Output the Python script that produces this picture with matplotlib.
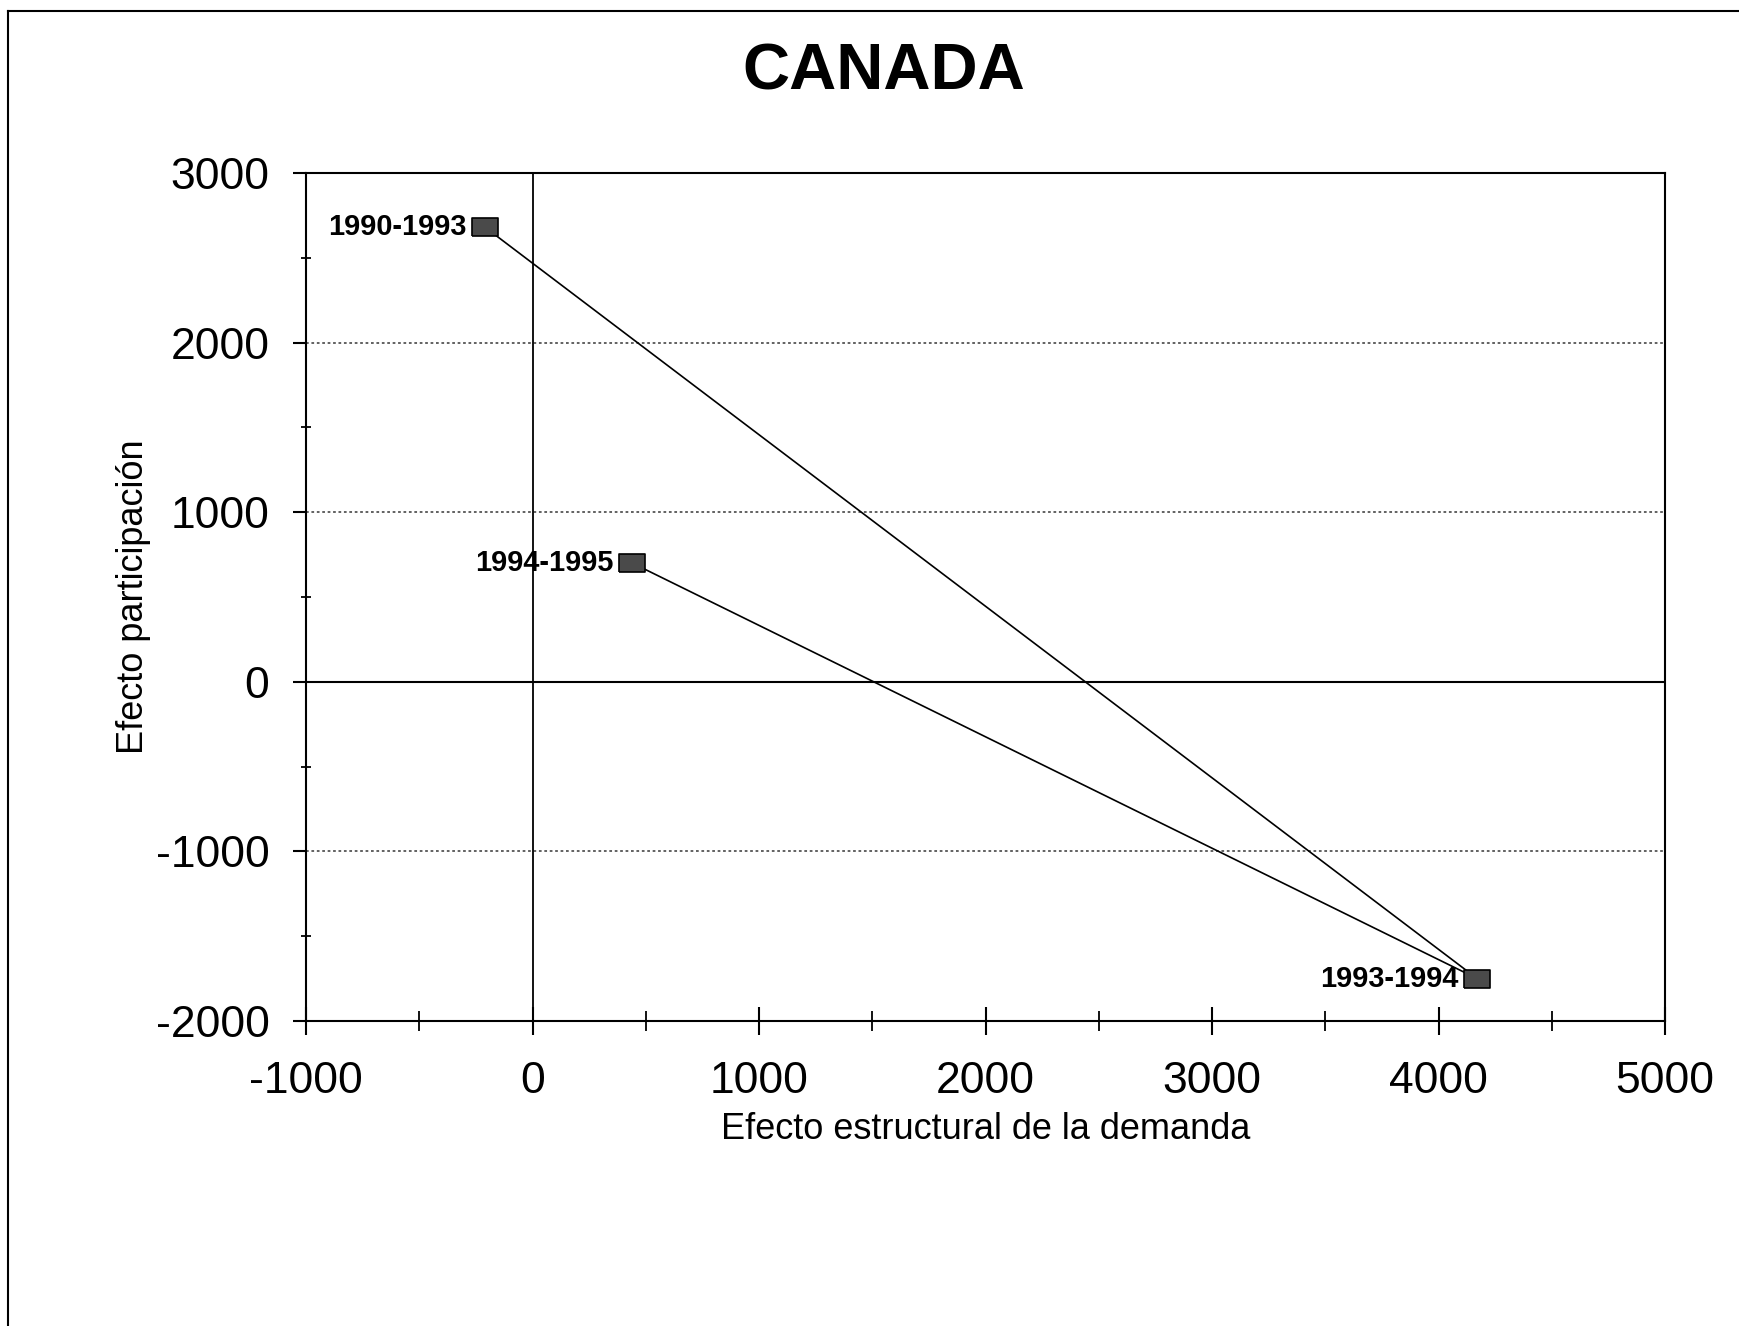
import numpy as np
import matplotlib.pyplot as plt
from matplotlib.lines import Line2D
from matplotlib.ticker import MultipleLocator

plt.rcParams['font.family'] = ['Liberation Sans', 'DejaVu Sans']
plt.rcParams['axes.unicode_minus'] = False

# Puntos por periodo (efecto estructural, efecto participación)
periodos = ["1990-1993", "1993-1994", "1994-1995"]
efecto_estructural = [-210, 4170, 440]
efecto_participacion = [2680, -1750, 700]

fig = plt.figure(figsize=(17.4, 13.26), dpi=100)
ax = fig.add_axes([0.176, 0.230, 0.781, 0.6395])

ax.set_xlim(-1000, 5000)
ax.set_ylim(-2000, 3000)

# Cuadrícula horizontal punteada y ejes en cero
for yv in [2000, 1000, -1000]:
    ax.axhline(yv, color='#555555', linestyle=(0, (1.5, 1.5)), linewidth=1.3, zorder=1)
ax.axhline(0, color='black', linewidth=1.5, zorder=1)
ax.axvline(0, color='black', linewidth=1.3, zorder=1)

# Trayectoria entre periodos
ax.plot(efecto_estructural, efecto_participacion, color='black', linewidth=1.2, zorder=2)

rect = [(-1.5, -1), (1.5, -1), (1.5, 1), (-1.5, 1), (-1.5, -1)]
ax.plot(efecto_estructural, efecto_participacion, linestyle='none', marker=rect,
        markersize=19, markerfacecolor='#4a4a4a', markeredgecolor='black',
        markeredgewidth=1.2, zorder=3)

for p, x, y in zip(periodos, efecto_estructural, efecto_participacion):
    ax.annotate(p, (x, y), xytext=(-13.5, 0), textcoords='offset points',
                ha='right', va='center', fontsize=20.8, fontweight='bold', zorder=4)

for s in ax.spines.values():
    s.set_linewidth(1.5)

ax.xaxis.set_major_locator(MultipleLocator(1000))
ax.xaxis.set_minor_locator(MultipleLocator(500))
ax.yaxis.set_major_locator(MultipleLocator(1000))
ax.yaxis.set_minor_locator(MultipleLocator(500))

ax.tick_params(axis='x', which='major', direction='inout', length=20, width=1.5,
               labelsize=32, pad=19)
ax.tick_params(axis='x', which='minor', direction='inout', length=14, width=1.3)
ax.tick_params(axis='y', which='major', direction='out', length=9.5, width=1.5,
               labelsize=32, pad=17)
ax.tick_params(axis='y', which='minor', direction='inout', length=7, width=1.3)

ax.set_xlabel("Efecto estructural de la demanda", fontsize=26, va='center')
ax.xaxis.set_label_coords(0.5, -0.1285)
ax.set_ylabel("Efecto participación", fontsize=26, va='center')
ax.yaxis.set_label_coords(-0.127, 0.5)

fig.text(0.508, 0.9326, "CANADA", ha='center', va='baseline',
         fontsize=47, fontweight='bold')

# Marco exterior
fig.add_artist(Line2D([0.0046, 0.0046], [0, 0.9917], transform=fig.transFigure,
                      color='black', linewidth=1.5))
fig.add_artist(Line2D([0.0046, 1], [0.9917, 0.9917], transform=fig.transFigure,
                      color='black', linewidth=1.5))

fig.savefig("out.png", dpi=100)
